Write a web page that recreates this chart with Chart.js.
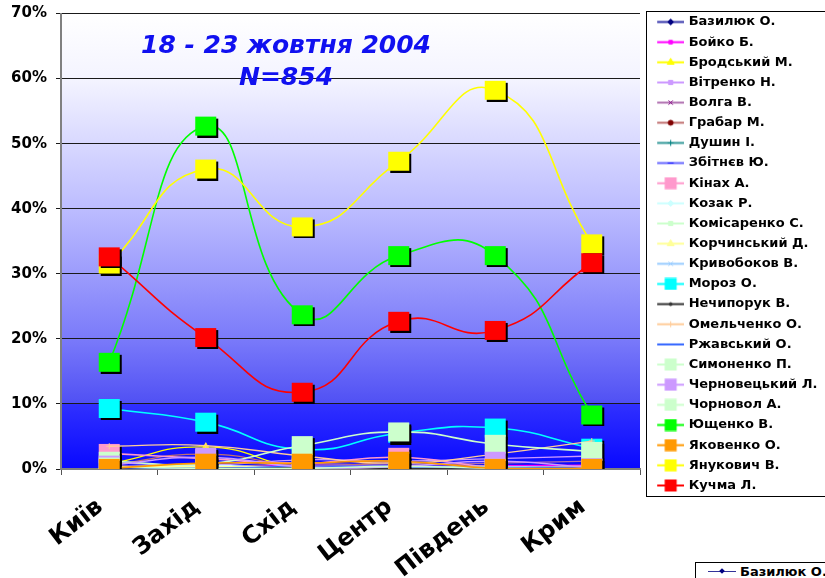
<!DOCTYPE html>
<html>
<head>
<meta charset="utf-8">
<script src="https://cdn.jsdelivr.net/npm/chart.js@4.4.1/dist/chart.umd.min.js"></script>
<style>
  html, body { margin: 0; padding: 0; background: #fff; overflow: hidden; }
  #wrap { position: relative; width: 845px; height: 578px; }
  .next70 { position: absolute; left: 22px; top: 575px; font: bold 14px "DejaVu Sans"; color: #000; }
  .nextLegend { position: absolute; left: 695px; top: 562px; width: 200px; height: 40px; border: 1px solid #000; background: #fff; }
  .nextLegend .ln { position: absolute; left: 12px; top: 8px; width: 28px; height: 1px; background: #333399; }
  .nextLegend .dm { position: absolute; left: 24px; top: 6px; width: 4px; height: 4px; background: #000080; transform: rotate(45deg); }
  .nextLegend .tx { position: absolute; left: 44px; top: 1px; font: bold 13px "DejaVu Sans"; color: #000; white-space: nowrap; }
</style>
</head>
<body>
<div id="wrap"><canvas id="myChart"></canvas></div>
<div class="next70">70%</div>
<div class="nextLegend"><span class="ln"></span><span class="dm"></span><span class="tx">Базилюк О.</span></div>
<script>
const ctx = document.getElementById('myChart').getContext('2d')

const regions = ['Київ', 'Захід', 'Схід', 'Центр', 'Південь', 'Крим']
const yTicks = [0, 10, 20, 30, 40, 50, 60, 70]
const candidates = [
  'Базилюк О.', 'Бойко Б.', 'Бродський М.', 'Вітренко Н.', 'Волга В.', 'Грабар М.',
  'Душин І.', 'Збітнєв Ю.', 'Кінах А.', 'Козак Р.', 'Комісаренко С.', 'Корчинський Д.',
  'Кривобоков В.', 'Мороз О.', 'Нечипорук В.', 'Омельченко О.', 'Ржавський О.', 'Симоненко П.',
  'Черновецький Л.', 'Чорновол А.', 'Ющенко В.', 'Яковенко О.', 'Янукович В.', 'Кучма Л.',
]

// % by region
const bazyliuk = [0.2, 0.1, 0.3, 0.2, 0.1, 0.2]
const boiko = [0.4, 0.2, 0.6, 0.4, 0.5, 0.6]
const brodskyi = [0.8, 3.4, 0.2, 0.3, 0.1, 0.2]
const vitrenko = [1.0, 0.6, 1.4, 1.2, 1.6, 2.0]
const volga = [0.5, 0.3, 0.8, 0.6, 0.9, 1.2]
const hrabar = [0.6, 2.3, 0.5, 1.0, 0.4, 0.3]
const dushyn = [0.1, 0.2, 0.2, 0.1, 0.2, 0.1]
const zbitniev = [0.3, 0.2, 0.4, 0.5, 0.3, 0.4]
const kinakh = [2.4, 1.6, 0.9, 1.8, 0.3, 0.5]
const kozak = [0.3, 0.6, 0.1, 0.2, 0.1, 0.0]
const komisarenko = [0.2, 0.1, 0.3, 0.2, 0.2, 0.1]
const korchynskyi = [0.3, 0.4, 0.2, 0.3, 0.2, 0.3]
const kryvobokov = [0.1, 0.1, 0.2, 0.3, 0.4, 0.2]
const moroz = [9.3, 7.2, 3.0, 5.5, 6.3, 3.2]
const nechyporuk = [0.1, 0.1, 0.2, 0.1, 0.1, 0.1]
const omelchenko = [3.5, 3.6, 2.0, 0.9, 2.3, 4.3]
const rzhavskyi = [0.2, 0.1, 0.4, 0.3, 0.2, 0.3]
const symonenko = [1.2, 0.8, 3.6, 5.7, 3.8, 2.7]
const chernovetskyi = [0.6, 1.8, 0.3, 0.4, 1.2, 0.2]
const chornovol = [0.3, 0.1, 0.1, 0.4, 0.1, 0.0]
const yushchenko = [16.4, 52.7, 23.7, 32.8, 32.8, 8.3]
const yakovenko = [0.1, 0.9, 0.9, 1.2, 0.1, 0.1]
const yanukovych = [31.5, 46.1, 37.2, 47.3, 58.2, 34.6]
const kuchma = [32.6, 20.2, 11.8, 22.7, 21.3, 31.7]

const values = [
  bazyliuk, boiko, brodskyi, vitrenko, volga, hrabar, dushyn, zbitniev, kinakh, kozak,
  komisarenko, korchynskyi, kryvobokov, moroz, nechyporuk, omelchenko, rzhavskyi, symonenko,
  chernovetskyi, chornovol, yushchenko, yakovenko, yanukovych, kuchma,
]

// line colour, marker colour, marker style, marker radius
const looks = [
  ['#3333aa', '#000080', 'rectRot', 3],
  ['#ff00ff', '#ff00ff', 'rect', 2.5],
  ['#ffff00', '#ffff00', 'triangle', 4],
  ['#cc99ff', '#cc99ff', 'rect', 3],
  ['#b070b0', '#800080', 'crossRot', 3],
  ['#c07070', '#800000', 'circle', 2.5],
  ['#339999', '#008080', 'cross', 3],
  ['#6666ff', '#0000ff', 'line', 3],
  ['#ff99cc', '#ff99cc', 'big', 0],
  ['#ccffff', '#ccffff', 'rectRot', 3],
  ['#ccffcc', '#ccffcc', 'rect', 3],
  ['#ffff99', '#ffff99', 'triangle', 4],
  ['#99ccff', '#99ccff', 'crossRot', 3],
  ['#00ffff', '#00ffff', 'big', 0],
  ['#333333', '#333333', 'circle', 1.5],
  ['#ffcc99', '#ffcc99', 'cross', 3],
  ['#3366ff', '#3366ff', 'line', 3],
  ['#ccffcc', '#ccffcc', 'big', 0],
  ['#cc99ff', '#cc99ff', 'big', 0],
  ['#ccffcc', '#ccffcc', 'big', 0],
  ['#00ff00', '#00ff00', 'big', 0],
  ['#ff9900', '#ff9900', 'big', 0],
  ['#ffff00', '#ffff00', 'big', 0],
  ['#ff0000', '#ff0000', 'big', 0],
]

// big square marker with black drop shadow
function bigSquare(color) {
  const c = document.createElement('canvas')
  c.width = 27
  c.height = 23
  const g = c.getContext('2d')
  g.fillStyle = '#000'
  g.fillRect(5, 4, 21, 19)
  g.fillStyle = color
  g.fillRect(3, 2, 21, 19)
  return c
}

// legend sample: line + marker
function legendSample(look) {
  const [lc, mc, st, r] = look
  const c = document.createElement('canvas')
  c.width = 39
  c.height = 13
  const g = c.getContext('2d')
  g.strokeStyle = lc
  g.lineWidth = 2
  g.beginPath()
  g.moveTo(12, 6.5)
  g.lineTo(39, 6.5)
  g.stroke()
  if (st === 'big') {
    g.fillStyle = mc
    g.fillRect(19.5, 0.5, 12, 12)
  } else {
    g.fillStyle = mc
    g.strokeStyle = mc
    g.lineWidth = 1
    Chart.helpers.drawPoint(g, { pointStyle: st, radius: r, borderWidth: 1, rotation: 0 }, 25.5, 6.5)
  }
  return c
}

const legendImgs = looks.map(legendSample)

const datasets = candidates.map((name, i) => {
  const [lc, mc, st, r] = looks[i]
  const big = st === 'big'
  return {
    label: name,
    data: values[i],
    borderColor: lc,
    backgroundColor: mc,
    borderWidth: big ? 1.6 : 1.3,
    pointStyle: big ? bigSquare(mc) : st,
    pointRadius: big ? 10 : r,
    pointBorderColor: mc,
    pointBackgroundColor: mc,
    pointBorderWidth: 1,
    tension: 0.5,
    order: candidates.length - i,
  }
})

const plotBackground = {
  id: 'plotBackground',
  beforeDraw(chart) {
    const { ctx, chartArea: a } = chart
    ctx.save()
    ctx.fillStyle = '#fff'
    ctx.fillRect(0, 0, chart.width, chart.height)
    const gr = ctx.createLinearGradient(0, a.top, 0, a.bottom)
    gr.addColorStop(0, '#ffffff')
    gr.addColorStop(0.143, '#f4f4ff')
    gr.addColorStop(0.286, '#d8d8ff')
    gr.addColorStop(0.43, '#bcbcff')
    gr.addColorStop(0.571, '#9c9cfc')
    gr.addColorStop(0.714, '#7a7afa')
    gr.addColorStop(0.856, '#5050f4')
    gr.addColorStop(0.858, '#3030ff')
    gr.addColorStop(1, '#0808ff')
    ctx.fillStyle = gr
    ctx.fillRect(a.left, a.top, a.right - a.left, a.bottom - a.top)
    ctx.restore()
  },
}

const legendWidth = {
  id: 'legendWidth',
  beforeInit(chart) {
    const fit = chart.legend.fit
    chart.legend.fit = function () {
      fit.call(this)
      this.width = 205
    }
  },
}

const extras = {
  id: 'extras',
  afterDraw(chart) {
    const { ctx } = chart
    ctx.save()
    ctx.strokeStyle = '#000'
    ctx.lineWidth = 1
    ctx.strokeRect(646.5, 11.5, 210, 485)
    ctx.fillStyle = '#1010f0'
    ctx.font = 'italic bold 25px "DejaVu Sans"'
    ctx.textAlign = 'center'
    ctx.textBaseline = 'middle'
    ctx.fillText('18 - 23 жовтня 2004', 286, 46)
    ctx.fillText('N=854', 286, 78)
    ctx.restore()
  },
}

const myChart = new Chart(ctx, {
  type: 'line',
  data: { labels: regions, datasets: datasets },
  plugins: [plotBackground, legendWidth, extras],
  options: {
    responsive: true,
    maintainAspectRatio: false,
    animation: false,
    layout: { padding: { top: 7, left: 0, right: 0, bottom: 0 } },
    plugins: {
      legend: {
        position: 'right',
        align: 'start',
        title: { display: true, text: '', font: { size: 1, lineHeight: 1 }, padding: { top: 0.35, bottom: 0 } },
        labels: {
          usePointStyle: true,
          pointStyleWidth: 35,
          padding: 7.15,
          color: '#000',
          font: { family: 'DejaVu Sans', weight: 'bold', size: 13 },
          generateLabels: function (chart) {
            return chart.data.datasets.map(function (ds, i) {
              return {
                text: ds.label,
                pointStyle: legendImgs[i],
                datasetIndex: i,
                fillStyle: ds.backgroundColor,
                strokeStyle: ds.borderColor,
                fontColor: '#000',
                lineWidth: 0,
                hidden: false,
              }
            })
          },
        },
      },
      tooltip: { enabled: false },
    },
    scales: {
      x: {
        offset: true,
        grid: { offset: true, drawOnChartArea: false, drawTicks: true, tickLength: 6, color: '#555' },
        border: { display: true, color: '#808080', width: 2 },
        ticks: {
          autoSkip: false,
          minRotation: 38,
          maxRotation: 38,
          padding: 18,
          labelOffset: -9,
          color: '#000',
          font: { family: 'DejaVu Sans', weight: 'bold', size: 24 },
        },
        afterFit: function (s) { s.height = 109 },
      },
      y: {
        min: 0,
        max: 70,
        afterBuildTicks: function (s) { s.ticks = yTicks.map(function (v) { return { value: v } }) },
        grid: { color: '#1a1a1a', lineWidth: 1, tickLength: 5, drawTicks: true },
        border: { display: true, color: '#808080', width: 2 },
        ticks: {
          padding: 9,
          color: '#000',
          font: { family: 'DejaVu Sans', weight: 'bold', size: 15, lineHeight: 0.6 },
          callback: function (v) { return v + '%' },
        },
        afterFit: function (s) { s.width = 61 },
      },
    },
  },
})
</script>
</body>
</html>
